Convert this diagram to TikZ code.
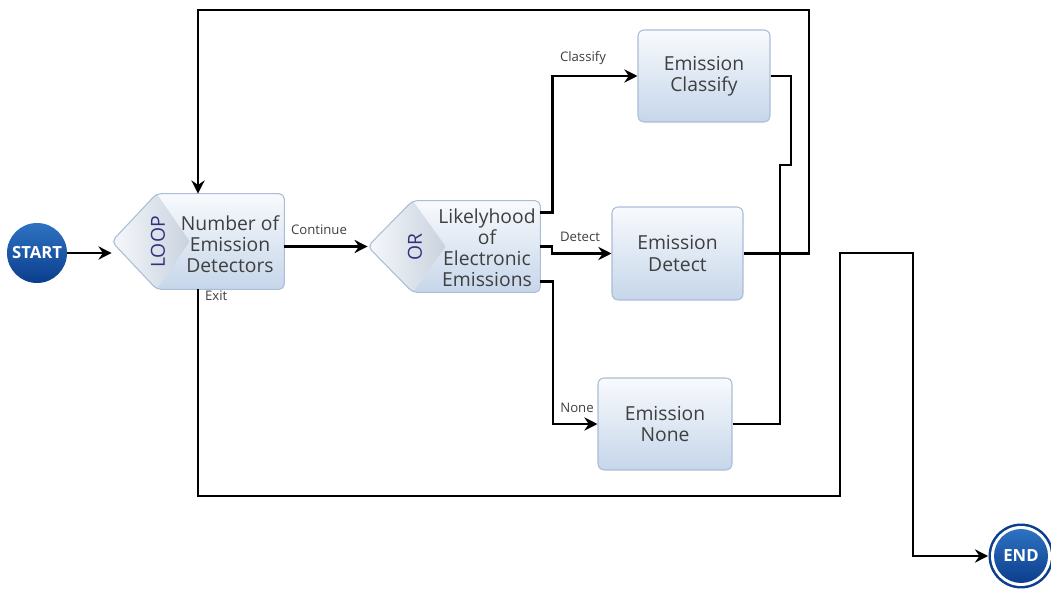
\documentclass[tikz,border=0pt]{standalone}
\usepackage{fontspec}
\setmainfont{Open Sans}
\usetikzlibrary{arrows.meta,calc}

\definecolor{boxtop}{HTML}{F8FAFD}
\definecolor{boxbot}{HTML}{C6D6EA}
\definecolor{boxedge}{HTML}{A9BDD6}
\definecolor{txt}{HTML}{3F3F3F}
\definecolor{gatecol}{HTML}{34317E}
\definecolor{termtop}{HTML}{2E72C2}
\definecolor{termbot}{HTML}{0B3E8C}
\definecolor{diamL}{HTML}{F6F8FB}
\definecolor{diamR}{HTML}{C9D2DE}

\begin{document}
\begin{tikzpicture}[x=0.02cm,y=-0.02cm,
  flow/.style={line width=1.5pt, -{Stealth[length=7.5pt,width=7.5pt,inset=2.5pt]}},
  wire/.style={line width=1.5pt},
  task/.style={rectangle, rounded corners=3.5pt, draw=boxedge, line width=0.6pt,
    top color=boxtop, bottom color=boxbot, minimum width=2.64cm, minimum height=1.84cm,
    align=center, font=\fontsize{11}{12}\selectfont, text=txt},
  gatearea/.style={rectangle, minimum width=3.44cm, minimum height=1.9cm, inner sep=0},
  gatetext/.style={align=center, font=\fontsize{11}{12}\selectfont, text=txt},
  gateword/.style={rotate=90, font=\fontsize{11}{12}\selectfont, text=gatecol},
  tag/.style={font=\fontsize{7.5}{9}\selectfont, text=txt, inner sep=1pt},
  terminal/.style={circle, minimum size=1.2cm, inner sep=0, top color=termtop,
    bottom color=termbot, text=white, font=\bfseries\fontsize{9.5}{10}\selectfont}]

\useasboundingbox (0,0) rectangle (1051,591);

% ---- gate areas (used for anchoring) ----
\node[gatearea] (loop) at (198,241.5) {};
\node[gatearea, minimum height=1.82cm] (orgate) at (454,246.5) {};

% ---- gate shapes: pointed left side, rectangle body ----
\foreach \g in {loop,orgate}{
  \shade[top color=boxtop, bottom color=boxbot, rounded corners=3pt]
    (\g.west) -- ($(\g.north west)+(45,0)$) -- (\g.north east)
    -- (\g.south east) -- ($(\g.south west)+(45,0)$) -- cycle;
  \shade[left color=diamL, right color=diamR]
    (\g.west) -- ($(\g.north west)+(45,0)$) -- ($(\g.west)+(78,0)$)
    -- ($(\g.south west)+(45,0)$) -- cycle;
  \draw[boxedge, line width=0.6pt, rounded corners=3pt]
    (\g.west) -- ($(\g.north west)+(45,0)$) -- (\g.north east)
    -- (\g.south east) -- ($(\g.south west)+(45,0)$) -- cycle;
}

\node[gateword] (looptag) at (158,242) {LOOP};
\node[gatetext] (looptext) at (230,244) {Number of\\Emission\\Detectors};
\node[gateword] (ortag) at (415,247) {OR};
\node[gatetext] (ortext) at (487,248) {Likelyhood\\of\\Electronic\\Emissions};

% ---- tasks ----
\node[task] (classify) at (704,76) {Emission\\Classify};
\node[task, minimum width=2.62cm, minimum height=1.86cm] (detect) at (677.5,253.5) {Emission\\Detect};
\node[task, minimum width=2.68cm] (none) at (665,424) {Emission\\None};

% ---- terminals ----
\node[terminal] (start) at (37,253) {START};
\node[circle, minimum size=1.3cm, inner sep=0, fill=termbot] (end) at (1021,556) {};
\fill[white] (end.center) circle (0.6cm);
\shade[top color=termtop, bottom color=termbot] (end.center) circle (0.54cm);
\node[text=white, font=\bfseries\fontsize{9.5}{10}\selectfont] (endtext) at (end.center) {END};

% ---- connectors ----
\draw[flow] (start) -- (start.east -| loop.west);
\draw[flow] (loop.east |- orgate.west) -- (orgate.west);
\node[tag] (continuetag) at (319,230) {Continue};

\draw[flow] ($(orgate.east)+(0,-34)$) -| ($(classify.west)+(-85,0)$) -- (classify.west);
\node[tag] (classifytag) at (583,58) {Classify};
\draw[flow] (orgate.east) -- (552,246.5) |- (detect.west);
\node[tag] (detecttag) at (580,237) {Detect};
\draw[flow] ($(orgate.east)+(0,35)$) -- (553,281.5) |- (none.west);
\node[tag] (nonetag) at (577,408) {None};

% merge of classify and none outputs
\draw[wire] (classify.east) -| (791,165) -| (780,424) -- (none.east);

% repeat loop back to the detector count
\draw[flow] (detect.east) -| (809,10) -| (loop.north);

% exit branch to the end
\draw[flow] (loop.south) |- (840,496) |- (913,253) |- (end);
\node[tag, anchor=west] (exittag) at (203,296) {Exit};

\end{tikzpicture}
\end{document}
